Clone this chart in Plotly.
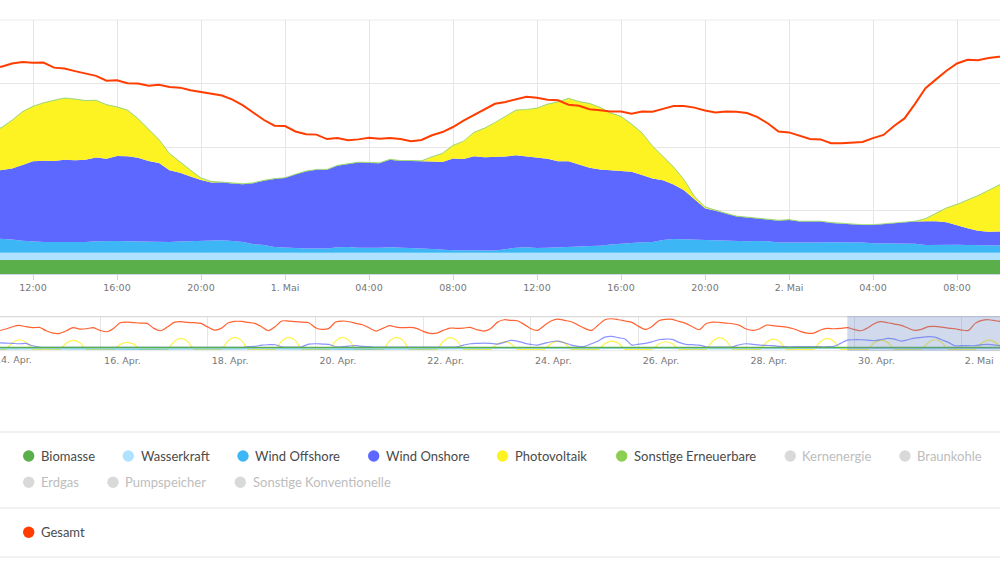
import pandas as pd
import plotly.graph_objects as go

# main chart, half hour steps, values in GW
main_time = pd.date_range("2020-04-30 10:00", periods=98, freq="30min")

biomasse = [4.4, 4.4, 4.4, 4.4, 4.4, 4.4, 4.4, 4.4, 4.4, 4.4, 4.4, 4.4, 4.4, 4.4, 4.4, 4.4, 4.4, 4.4, 4.4, 4.4,
            4.4, 4.4, 4.4, 4.4, 4.4, 4.4, 4.4, 4.4, 4.4, 4.4, 4.4, 4.4, 4.4, 4.4, 4.4, 4.4, 4.4, 4.4, 4.4, 4.4,
            4.4, 4.4, 4.4, 4.4, 4.4, 4.4, 4.4, 4.4, 4.4, 4.4, 4.4, 4.4, 4.4, 4.4, 4.4, 4.4, 4.4, 4.4, 4.4, 4.4,
            4.4, 4.4, 4.4, 4.4, 4.4, 4.4, 4.4, 4.4, 4.4, 4.4, 4.4, 4.4, 4.4, 4.4, 4.4, 4.4, 4.4, 4.4, 4.4, 4.4,
            4.4, 4.4, 4.4, 4.4, 4.4, 4.4, 4.4, 4.4, 4.4, 4.4, 4.4, 4.4, 4.4, 4.4, 4.4, 4.4, 4.4, 4.4]
wasserkraft = [2.3, 2.3, 2.3, 2.3, 2.3, 2.3, 2.3, 2.3, 2.3, 2.3, 2.3, 2.3, 2.3, 2.3, 2.3, 2.3, 2.3, 2.3, 2.3, 2.3,
               2.3, 2.3, 2.3, 2.3, 2.3, 2.3, 2.3, 2.3, 2.3, 2.3, 2.3, 2.3, 2.3, 2.3, 2.3, 2.3, 2.3, 2.3, 2.3, 2.3,
               2.3, 2.3, 2.3, 2.3, 2.3, 2.3, 2.3, 2.3, 2.3, 2.3, 2.3, 2.3, 2.3, 2.3, 2.3, 2.3, 2.3, 2.3, 2.3, 2.3,
               2.3, 2.3, 2.3, 2.3, 2.3, 2.3, 2.3, 2.3, 2.3, 2.3, 2.3, 2.3, 2.3, 2.3, 2.3, 2.3, 2.3, 2.3, 2.3, 2.3,
               2.3, 2.3, 2.3, 2.3, 2.3, 2.3, 2.3, 2.3, 2.3, 2.3, 2.3, 2.3, 2.3, 2.3, 2.3, 2.3, 2.3, 2.3]
offshore = [4.5, 4.4, 4.2, 3.8, 3.5, 3.4, 3.4, 3.4, 3.3, 3.4, 3.6, 3.7, 3.7, 3.6, 3.5, 3.4, 3.3, 3.4, 3.5, 3.6,
            3.7, 3.8, 3.9, 3.7, 3.4, 2.7, 2.4, 1.8, 1.6, 1.5, 1.3, 1.3, 1.3, 1.7, 1.8, 1.6, 1.5, 1.6, 1.7, 1.5,
            1.4, 1.3, 1.2, 0.9, 0.8, 0.8, 0.7, 0.7, 0.7,
            1.1, 1.6, 1.7, 1.5, 1.6, 1.8, 1.9, 2.0, 2.1, 2.2, 2.6, 2.9, 3.0, 3.3, 3.4, 4.0, 4.3, 4.2, 4.1, 3.9,
            3.9, 3.8, 3.7, 3.6, 3.7, 3.6, 3.2, 3.2, 3.0, 3.2, 3.2, 3.3, 3.3, 3.2, 3.2, 3.0, 3.0, 3.0, 3.0, 2.8,
            2.4, 2.5, 2.6, 2.5, 2.4, 2.3, 2.2, 2.2, 2.2]
onshore = [21.1, 21.6, 22.3, 23.8, 25.3, 25.6, 25.5, 25.9, 25.8, 25.9, 26.4, 25.9, 26.8, 26.8, 26.4, 25.5, 25.0, 22.6,
           21.7, 20.4, 19.2, 18.3, 18.2, 18.1, 18.2, 19.2, 20.3, 21.4, 21.9, 23.1, 24.3, 24.8, 24.8, 25.7, 26.0, 26.8,
           26.8, 26.6, 27.6, 27.4, 27.5, 27.4, 27.5, 27.7, 28.9, 28.7, 29.7, 29.4, 29.4,
           29.2, 29.1, 28.6, 28.4, 28.0, 27.0, 26.9, 25.8, 24.7, 24.0, 23.4, 23.0, 22.5, 21.2, 20.0, 18.8, 17.2,
           15.5, 12.8, 10.1, 9.3, 8.5, 7.7, 7.5, 7.1, 6.8, 6.9, 7.1, 6.8, 6.6, 6.6, 6.1, 5.8, 5.7, 5.5, 5.7, 6.0,
           6.3, 6.7, 7.0, 7.5, 7.4, 7.0, 6.1, 5.3, 4.6, 4.4, 4.5, 4.6]
photovoltaik = [12.5, 13.3, 15.1, 16.7, 17.2, 18.1, 19.0, 19.3, 19.2, 18.5, 17.9, 16.9, 15.3, 14.4, 12.2, 9.8, 7.2, 5.1,
                3.2, 1.9, 0.5, 0.2, 0, 0, 0, 0, 0, 0, 0, 0, 0, 0, 0, 0, 0, 0, 0, 0, 0, 0, 0,
                0.1, 1.4, 2.6, 4.0, 5.5, 7.4, 9.0, 10.8,
                12.6, 14.1, 14.7, 15.5, 17.1, 18.6, 19.7, 19.7, 20.1, 19.5, 17.9, 16.9, 14.9, 13.1, 10.1, 7.5, 5.4,
                3.2, 0.7, 0.3, 0, 0, 0, 0, 0, 0, 0, 0, 0, 0, 0, 0, 0, 0, 0, 0, 0, 0, 0, 0,
                0.7, 2.5, 4.4, 6.5, 8.7, 11.0, 12.9, 14.5, 15.6]
sonstige_ee = [0.15, 0.15, 0.15, 0.15, 0.15, 0.15, 0.15, 0.15, 0.15, 0.15, 0.15, 0.15, 0.15, 0.15, 0.15, 0.15, 0.15,
               0.15, 0.15, 0.15, 0.15, 0.15, 0.15, 0.15, 0.15, 0.15, 0.15, 0.15, 0.15, 0.15, 0.15, 0.15, 0.15, 0.15,
               0.15, 0.15, 0.15, 0.15, 0.15, 0.15, 0.15, 0.15, 0.15, 0.15, 0.15, 0.15, 0.15, 0.15, 0.15, 0.15, 0.15,
               0.15, 0.15, 0.15, 0.15, 0.15, 0.15, 0.15, 0.15, 0.15, 0.15, 0.15, 0.15, 0.15, 0.15, 0.15, 0.15, 0.15,
               0.15, 0.15, 0.15, 0.15, 0.15, 0.15, 0.15, 0.15, 0.15, 0.15, 0.15, 0.15, 0.15, 0.15, 0.15, 0.15, 0.15,
               0.15, 0.15, 0.15, 0.15, 0.15, 0.15, 0.15, 0.15, 0.15, 0.15, 0.15, 0.15, 0.15]
gesamt = [65.0, 65.3, 66.3, 66.8, 66.5, 66.6, 65.0, 64.7, 63.9, 63.1, 62.4, 60.9, 61.0, 60.1, 60.0, 59.3, 59.6, 58.9,
          58.7, 57.9, 57.3, 56.8, 56.2, 54.9, 53.1, 50.8, 48.5, 46.7, 46.6, 44.9, 44.0, 43.9, 42.5, 42.8, 42.1, 42.4,
          42.9, 42.6, 42.8, 42.5, 41.8, 42.2, 43.7, 44.7, 46.3, 48.3, 50.1, 51.7, 53.6,
          54.2, 55.0, 55.8, 55.5, 54.9, 54.7, 53.3, 53.0, 51.9, 51.6, 51.2, 51.2, 50.5, 51.2, 51.1, 52.0, 52.9,
          52.9, 52.4, 51.5, 50.9, 51.2, 51.1, 50.7, 49.4, 47.4, 44.9, 44.6, 43.6, 42.5, 42.4, 41.2, 41.2, 41.5,
          41.6, 42.8, 43.8, 46.6, 49.0, 53.6, 58.5, 61.3, 64.0, 66.3, 67.5, 67.3, 68.0, 68.4, 68.6]

# navigator, three hour steps
nav_time = pd.date_range("2020-04-14 03:00", periods=150, freq="3h")

nav_gesamt = [43.1, 47.0, 52.4, 55.4, 52.4, 50.1, 50.8, 43.1, 37.7, 37.0, 43.1, 50.1, 47.0, 47.7, 50.1, 43.9, 40.8,
              48.5, 61.6, 63.1, 61.6, 60.8, 60.1, 48.5, 43.1, 51.6, 62.4, 63.9, 62.4, 61.6, 60.1, 51.6, 44.7, 48.5,
              60.8, 64.7, 64.7, 62.4, 60.1, 52.4, 43.1, 52.4, 65.5, 65.5, 63.9, 63.1, 61.6, 50.1, 46.2, 48.5, 63.1,
              65.5, 63.9, 60.1, 57.0, 49.3, 42.4, 48.5, 54.7, 51.6, 50.1, 50.8, 48.5, 41.6, 37.0, 37.7, 43.9, 49.3,
              48.5, 49.3, 50.8, 45.4, 42.4, 47.7, 62.4,
              68.5, 67.0, 66.2, 57.8, 47.7, 43.9, 55.4, 65.5, 70.1, 67.0, 63.9, 56.2, 48.5, 43.9, 56.2, 68.5, 70.8,
              68.5, 65.5, 62.4, 53.1, 46.2, 53.1, 66.2, 69.3, 69.3, 64.7, 60.1, 52.4, 45.4, 59.3, 63.1, 62.4, 60.8,
              59.3, 55.4, 47.0, 43.9, 47.7, 56.2, 54.7, 53.1, 51.6, 47.7, 41.6, 37.7, 37.7, 44.7, 48.5, 47.7, 48.5,
              50.1, 46.2, 43.1, 49.3, 59.3, 63.9, 61.6, 58.5, 55.4, 49.3, 43.9, 46.2, 52.4, 53.1, 51.6, 49.3, 47.7,
              44.7, 43.9, 60.1, 67.0, 68.5, 66.2, 63.9]
nav_onshore = [15.4, 14.6, 13.9, 13.1, 13.9, 8.5, 5.4, 4.6, 4.6, 4.6, 4.6, 4.6, 4.6, 4.6, 4.6, 4.6, 4.6, 4.6, 4.6, 4.6,
               4.6, 4.6, 4.6, 4.6, 4.6, 4.6, 4.6, 4.6, 4.6, 4.6, 4.6, 4.6, 4.6, 4.6, 4.6, 4.6, 4.6, 6.2, 6.9, 10.0,
               10.8, 10.8, 6.2, 5.4, 5.4, 6.2, 12.3, 13.1, 12.3, 11.6, 6.2, 6.2, 7.7, 8.5, 6.9, 6.2, 5.4, 5.4, 5.4,
               5.4, 5.4, 5.4, 5.4, 5.4, 5.4, 5.4, 5.4, 5.4, 6.2, 10.0, 13.1, 13.9, 14.6, 13.9, 12.3,
               16.2, 20.8, 19.3, 14.6, 11.6, 10.0, 13.9, 17.7, 19.3, 15.4, 10.0, 6.9, 6.9, 13.1, 19.3, 28.5, 30.0,
               27.0, 23.9, 10.0, 12.3, 13.9, 17.7, 22.3, 23.9, 23.1, 16.2, 11.6, 10.8, 10.0, 6.2, 5.4, 5.4, 5.4, 6.2,
               10.8, 13.1, 11.6, 10.0, 9.2, 8.5, 6.9, 6.2, 6.2, 6.2, 6.2, 6.2, 6.2, 6.2, 6.9, 13.9, 21.6, 22.3, 22.3,
               21.6, 20.0, 22.3, 25.4, 23.9, 19.3, 22.3, 26.2, 27.7, 29.3, 28.5, 22.3, 16.2, 8.5, 8.5, 8.5, 8.5, 10.8,
               11.6, 10.0, 8.5]
nav_pv = [0, 0, 15.6, 22.3, 16.7, 0, 0,
          0, 0, 0, 14.6, 20.8, 15.6, 0, 0,
          0, 0, 0, 11.3, 16.2, 12.2, 0, 0,
          0, 0, 0, 17.8, 25.4, 19.0, 0, 0,
          0, 0, 0, 19.4, 27.7, 20.8, 0, 0,
          0, 0, 0, 19.4, 27.7, 20.8, 0, 0,
          0, 0, 0, 19.4, 27.7, 20.8, 0, 0,
          0, 0, 0, 19.4, 27.7, 20.8, 0, 0,
          0, 0, 0, 18.9, 27.0, 20.3, 0, 0,
          0, 0, 0, 12.4, 17.7, 13.3, 0, 0,
          0, 0, 0, 13.5, 19.3, 14.5, 0, 0,
          0, 0, 0, 13.5, 19.3, 14.5, 0, 0,
          0, 0, 0, 12.4, 17.7, 13.3, 0, 0,
          0, 0, 0, 18.9, 27.0, 20.3, 0, 0,
          0, 0, 0, 16.7, 23.9, 17.9, 0, 0,
          0, 0, 0, 17.8, 25.4, 19.0, 0, 0,
          0, 0, 0, 15.1, 21.6, 16.2, 0, 0,
          0, 0, 0, 15.6, 22.3, 16.7, 0, 0,
          0, 0, 0, 15.1, 21.6, 16.2, 0]

nav_day = pd.date_range("2020-04-14", periods=20, freq="D")
nav_offshore = [1.5, 2.0, 1.2, 1.0, 1.4, 1.8, 1.2, 1.0, 1.6, 2.2, 2.6, 2.0, 2.8, 2.2, 1.8, 2.4, 3.2, 2.2, 2.4, 2.4]
nav_wasser = [2.3, 2.3, 2.3, 2.3, 2.3, 2.3, 2.3, 2.3, 2.3, 2.3, 2.3, 2.3, 2.3, 2.3, 2.3, 2.3, 2.3, 2.3, 2.3, 2.3]
nav_biomasse = [4.4, 4.4, 4.4, 4.4, 4.4, 4.4, 4.4, 4.4, 4.4, 4.4, 4.4, 4.4, 4.4, 4.4, 4.4, 4.4, 4.4, 4.4, 4.4, 4.4]

main_ticks = ["2020-04-30 12:00", "2020-04-30 16:00", "2020-04-30 20:00", "2020-05-01 00:00", "2020-05-01 04:00",
              "2020-05-01 08:00", "2020-05-01 12:00", "2020-05-01 16:00", "2020-05-01 20:00", "2020-05-02 00:00",
              "2020-05-02 04:00", "2020-05-02 08:00"]
main_labels = ["12:00", "16:00", "20:00", "1. Mai", "04:00", "08:00", "12:00", "16:00", "20:00", "2. Mai", "04:00",
               "08:00"]
nav_grid = ["2020-04-16", "2020-04-18", "2020-04-20", "2020-04-22", "2020-04-24", "2020-04-26", "2020-04-28",
            "2020-04-30", "2020-05-02"]
# labels sit right of their grid line, so they get their own tick positions
nav_label_ticks = ["2020-04-16 10:00", "2020-04-18 10:00", "2020-04-20 10:00", "2020-04-22 10:00",
                   "2020-04-24 10:00", "2020-04-26 10:00", "2020-04-28 10:00", "2020-04-30 10:00", "2020-05-02 07:48"]
nav_labels = ["16. Apr.", "18. Apr.", "20. Apr.", "22. Apr.", "24. Apr.", "26. Apr.", "28. Apr.", "30. Apr.", "2. Mai"]

GREEN = "#5aaf4b"
LIGHT_BLUE = "#aee2ff"
BLUE = "#3db6f5"
INDIGO = "#5c68ff"
YELLOW = "#fdf222"
LIGHT_GREEN = "#8cce50"
RED = "#ff3d00"
OFF = "#d9d9d9"
GRID = "#e6e6e6"

W, H = 1000, 563


def py(pixel):
    # page pixel from the top to paper fraction
    return 1 - pixel / H


fig = go.Figure()

stack = [(biomasse, GREEN, 0), (wasserkraft, LIGHT_BLUE, 0), (offshore, BLUE, 0), (onshore, INDIGO, 0),
         (photovoltaik, YELLOW, 0), (sonstige_ee, LIGHT_GREEN, 0.6)]
for values, color, width in stack:
    fig.add_trace(go.Scatter(x=main_time, y=values, mode="lines", stackgroup="a", fillcolor=color,
                             line=dict(color=color, width=width), showlegend=False, hoverinfo="skip"))
fig.add_trace(go.Scatter(x=main_time, y=gesamt, mode="lines", line=dict(color=RED, width=2), showlegend=False))

nav_series = [(nav_time, nav_pv, YELLOW, 1.2, 0.8), (nav_time, nav_onshore, INDIGO, 1.2, 0.7),
              (nav_day, nav_offshore, BLUE, 1.4, 0.8), (nav_day, nav_wasser, LIGHT_BLUE, 1.2, 0.8),
              (nav_day, nav_biomasse, GREEN, 1.6, 1), (nav_time, nav_gesamt, RED, 1.2, 0.8)]
for times, values, color, width, alpha in nav_series:
    fig.add_trace(go.Scatter(x=times, y=values, xaxis="x2", yaxis="y2", mode="lines", opacity=alpha,
                             line=dict(color=color, width=width, shape="spline", smoothing=0.8), showlegend=False))

# legend rows: name, colour, dot x, text x, row y
legend_items = [("Biomasse", GREEN, 28.7, 38.7, 456), ("Wasserkraft", LIGHT_BLUE, 128.3, 138.5, 456),
                ("Wind Offshore", BLUE, 243, 253, 456), ("Wind Onshore", INDIGO, 373.7, 383.7, 456),
                ("Photovoltaik", YELLOW, 502.5, 513, 456), ("Sonstige Erneuerbare", LIGHT_GREEN, 621.7, 631.7, 456),
                ("Kernenergie", OFF, 790.3, 800.3, 456), ("Braunkohle", OFF, 905, 915, 456),
                ("Erdgas", OFF, 28.7, 38.7, 482.3), ("Pumpspeicher", OFF, 113, 123, 482.3),
                ("Sonstige Konventionelle", OFF, 240.3, 250.6, 482.3), ("Gesamt", RED, 28.7, 38.7, 532.3)]
shapes = []
annotations = []
for name, color, dot_x, text_x, row_y in legend_items:
    shapes.append(dict(type="circle", xref="paper", yref="paper", x0=(dot_x - 5.7) / W, x1=(dot_x + 5.7) / W,
                       y0=py(row_y + 5.7), y1=py(row_y - 5.7), fillcolor=color, line=dict(width=0)))
    annotations.append(dict(text=name, xref="paper", yref="paper", x=text_x / W, y=py(row_y), xanchor="left",
                            yanchor="middle", showarrow=False,
                            font=dict(family="Lato", size=13, color="#4a4a4a" if color != OFF else "#bdbdbd")))

axis_font = dict(family="DejaVu Sans", size=9.5, color="#777777")

# first navigator label runs off the left edge, a tick label would push the margin
annotations.append(dict(text="14. Apr.", xref="paper", yref="paper", x=34 / W, y=py(359), xanchor="right",
                        yanchor="middle", showarrow=False, font=axis_font))

# separators between the page sections
for pixel in [20, 432, 508, 557]:
    shapes.append(dict(type="line", xref="paper", yref="paper", x0=0, x1=1, y0=py(pixel), y1=py(pixel),
                       line=dict(color="#ececec", width=1.5 if pixel != 20 else 1), layer="below"))

# navigator frame and selected range
shapes.append(dict(type="line", xref="paper", yref="paper", x0=0, x1=1, y0=py(316.7), y1=py(316.7),
                   line=dict(color="#d0d0d0", width=1)))
shapes.append(dict(type="line", xref="paper", yref="paper", x0=0, x1=1, y0=py(350.7), y1=py(350.7),
                   line=dict(color="#e8e8e8", width=1)))
shapes.append(dict(type="rect", xref="x2", yref="paper", x0="2020-04-29 21:00", x1="2020-05-03", y0=py(351),
                   y1=py(316), fillcolor="rgba(102,133,194,0.3)", line=dict(width=0)))

fig.update_layout(
    width=W, height=H, margin=dict(l=0, r=0, t=0, b=0), paper_bgcolor="white", plot_bgcolor="white",
    showlegend=False, shapes=shapes, annotations=annotations,
    xaxis=dict(domain=[0, 1], anchor="y", range=["2020-04-30 10:25:43", "2020-05-02 10:02:52"], tickmode="array",
               tickvals=main_ticks, ticktext=main_labels, tickfont=axis_font, showgrid=True, gridcolor=GRID,
               gridwidth=1, ticks="outside", ticklen=5, tickcolor="#ccd6eb", showline=True, linecolor="#ccd6eb",
               zeroline=False),
    yaxis=dict(domain=[py(274), py(20)], anchor="x", range=[0, 80], tickmode="array", tickvals=[20, 40, 60, 80],
               showticklabels=False, showgrid=True, gridcolor=GRID, gridwidth=1, zeroline=False),
    xaxis2=dict(domain=[0, 1], anchor="y2", range=["2020-04-14 03:26", "2020-05-02 17:03"], tickmode="array",
                tickvals=nav_label_ticks, ticktext=nav_labels, tickfont=axis_font, showgrid=False, ticks="outside",
                ticklen=1, tickcolor="rgba(255,255,255,0)", zeroline=False, showline=False,
                minor=dict(tickmode="array", tickvals=nav_grid, showgrid=True, gridcolor=GRID, gridwidth=1, ticks="")),
    yaxis2=dict(domain=[py(350.7), py(316.7)], anchor="x2", range=[-3, 75.5], showticklabels=False, showgrid=False,
                zeroline=False),
)

fig.write_html("out.html", config={"displayModeBar": False}, post_script="document.body.style.margin='0';")
